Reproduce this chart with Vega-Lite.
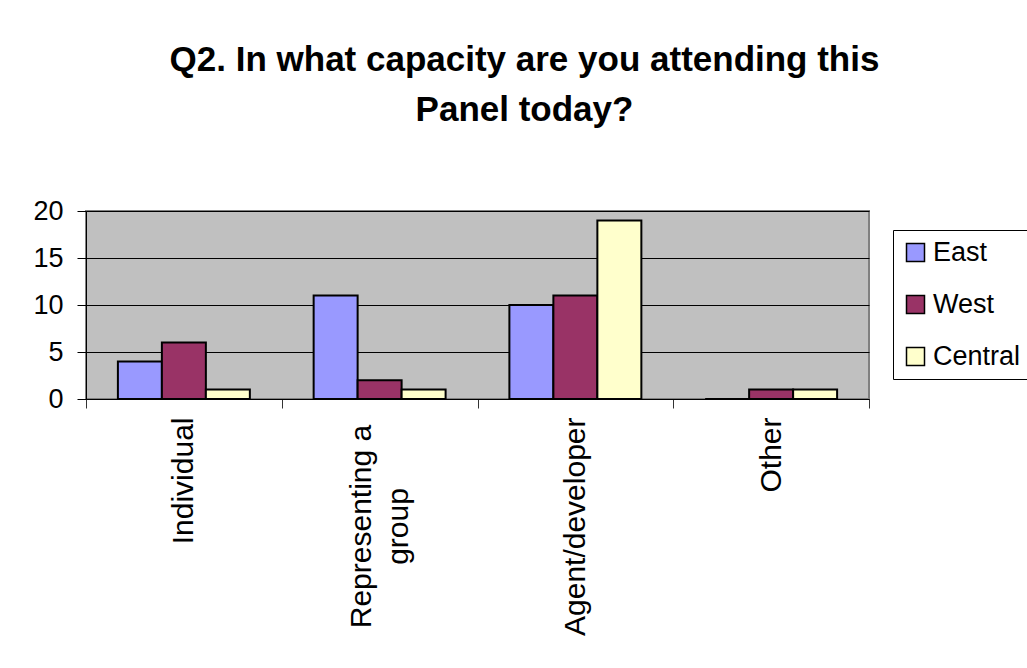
{
  "$schema": "https://vega.github.io/schema/vega-lite/v6.json",
  "autosize": {"type": "none"},
  "width": 783,
  "height": 188,
  "padding": {"left": 86, "top": 211, "right": 158, "bottom": 269},
  "background": "white",
  "title": {
    "text": ["Q2. In what capacity are you attending this", "Panel today?"],
    "font": "Liberation Sans",
    "fontSize": 35,
    "fontWeight": "bold",
    "color": "black",
    "anchor": "middle",
    "frame": "group",
    "dx": 47,
    "offset": 69,
    "lineHeight": 50
  },
  "data": {
    "values": [
      {"capacity": "Individual", "region": "East", "count": 4},
      {"capacity": "Individual", "region": "West", "count": 6},
      {"capacity": "Individual", "region": "Central", "count": 1},
      {"capacity": "Representing a group", "region": "East", "count": 11},
      {"capacity": "Representing a group", "region": "West", "count": 2},
      {"capacity": "Representing a group", "region": "Central", "count": 1},
      {"capacity": "Agent/developer", "region": "East", "count": 10},
      {"capacity": "Agent/developer", "region": "West", "count": 11},
      {"capacity": "Agent/developer", "region": "Central", "count": 19},
      {"capacity": "Other", "region": "East", "count": 0},
      {"capacity": "Other", "region": "West", "count": 1},
      {"capacity": "Other", "region": "Central", "count": 1}
    ]
  },
  "mark": {"type": "bar", "stroke": "black", "strokeWidth": 2},
  "encoding": {
    "x": {
      "field": "capacity",
      "type": "nominal",
      "sort": ["Individual", "Representing a group", "Agent/developer", "Other"],
      "scale": {"paddingInner": 0, "paddingOuter": 0},
      "axis": {
        "title": null,
        "labelAngle": -90,
        "labelFont": "Liberation Sans",
        "labelFontSize": 30,
        "labelColor": "black",
        "labelLimit": 400,
        "labelBaseline": "middle",
        "labelAlign": {"condition": {"test": "datum.value == 'Representing a group'", "value": "center"}, "value": "right"},
        "labelPadding": {"condition": {"test": "datum.value == 'Representing a group'", "value": 118}, "value": 9},
        "labelOffset": {"condition": {"test": "datum.value == 'Representing a group'", "value": -18}, "value": 0},
        "labelLineHeight": 37,
        "labelExpr": "datum.value == 'Representing a group' ? ['Representing a', 'group'] : datum.value",
        "tickBand": "extent",
        "tickSize": 9,
        "tickColor": "#333333",
        "domainColor": "black",
        "domainWidth": 1,
        "grid": false
      }
    },
    "xOffset": {
      "field": "region",
      "type": "nominal",
      "sort": ["East", "West", "Central"],
      "scale": {"paddingInner": 0, "paddingOuter": 0.725}
    },
    "y": {
      "field": "count",
      "type": "quantitative",
      "scale": {"domain": [0, 20]},
      "axis": {
        "title": null,
        "values": [0, 5, 10, 15, 20],
        "labelFont": "Liberation Sans",
        "labelFontSize": 27,
        "labelColor": "black",
        "labelPadding": 14,
        "tickSize": 9,
        "tickColor": "black",
        "domainColor": "black",
        "grid": true,
        "gridColor": "black",
        "gridWidth": 1,
        "gridOpacity": 1
      }
    },
    "color": {
      "field": "region",
      "type": "nominal",
      "scale": {"domain": ["East", "West", "Central"], "range": ["#9999FF", "#993366", "#FFFFCC"]},
      "legend": {
        "title": null,
        "orient": "none",
        "legendX": 807,
        "legendY": 19,
        "strokeColor": "black",
        "fillColor": "white",
        "padding": 9,
        "symbolType": "square",
        "symbolSize": 324,
        "symbolStrokeColor": "black",
        "symbolStrokeWidth": 1.5,
        "symbolOpacity": 1,
        "labelFont": "Liberation Sans",
        "labelFontSize": 27,
        "labelColor": "black",
        "labelOffset": 4,
        "rowPadding": 24
      }
    }
  },
  "config": {
    "view": {"fill": "#C0C0C0", "stroke": "#808080", "strokeWidth": 2}
  }
}
